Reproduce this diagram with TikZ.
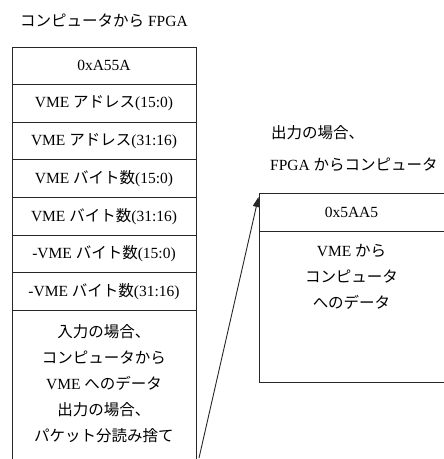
\documentclass[tikz,border=0pt]{standalone}
\usepackage{fontspec}
\setmainfont{Liberation Serif}
\newfontfamily\jpfont{Noto Sans CJK JP}
\newcommand\J[1]{{\jpfont #1}}
\newcommand\txtfont{\fontsize{15.5}{26}\selectfont}
\usetikzlibrary{arrows.meta}
\begin{document}
\begin{tikzpicture}[x=1pt,y=-1pt,
  line/.style={draw=black!85, line width=0.9pt},
  cell/.style={line, minimum width=184pt, minimum height=37.6pt, inner sep=0pt, outer sep=0pt, font=\txtfont, anchor=north west},
  blank/.style={minimum width=#1, inner sep=0pt, outer sep=0pt, anchor=north west},
  lbl/.style={font=\txtfont, inner sep=0pt, align=center}]
\useasboundingbox (0,0) rectangle (444,459);

% title
\node[lbl] (h1) at (104,21) {\J{コンピュータから} FPGA};

% left stack
\node[cell] (r1) at (12,47)    {0xA55A};
\node[cell] (r2) at (12,84.6)  {VME \J{アドレス}(15:0)};
\node[cell] (r3) at (12,122.2) {VME \J{アドレス}(31:16)};
\node[cell] (r4) at (12,159.8) {VME \J{バイト数}(15:0)};
\node[cell] (r5) at (12,197.4) {VME \J{バイト数}(31:16)};
\node[cell] (r6) at (12,235)   {-VME \J{バイト数}(15:0)};
\node[cell] (r7) at (12,272.6) {-VME \J{バイト数}(31:16)};
\node[blank=184pt, minimum height=148.8pt] (r8) at (12,310.2) {};
\draw[line] (r8.north west) -- (r8.south west);
\draw[line] (r8.north east) -- (r8.south east);
\node[lbl] (t8) at (104,383.5) {\J{入力の場合、}\\ \J{コンピュータから}\\ VME \J{へのデータ}\\ \J{出力の場合、}\\ \J{パケット分読み捨て}};

% right side labels
\node[lbl, anchor=west] (h2a) at (271,133) {\J{出力の場合、}};
\node[lbl, anchor=west] (h2b) at (270,165) {FPGA \J{からコンピュータ}};

% right box (right edge lies on the picture border)
\node[blank=185pt, minimum height=38pt, font=\txtfont] (s1) at (259,193) {0x5AA5};
\node[blank=185pt, minimum height=151pt] (s2) at (259,231) {};
\draw[line] (s1.north east) -- (s1.north west) -- (s2.south west) -- (s2.south east);
\draw[line] (s1.south west) -- (s1.south east);
\node[lbl] (t2) at (351.5,276.5) {VME \J{から}\\ \J{コンピュータ}\\ \J{へのデータ}};

% arrow
\coordinate (a0) at (199,458);
\coordinate (a1) at (258.5,197);
\draw[line, -{Triangle[length=10pt,width=7pt]}] (a0) -- (a1);
\end{tikzpicture}
\end{document}
